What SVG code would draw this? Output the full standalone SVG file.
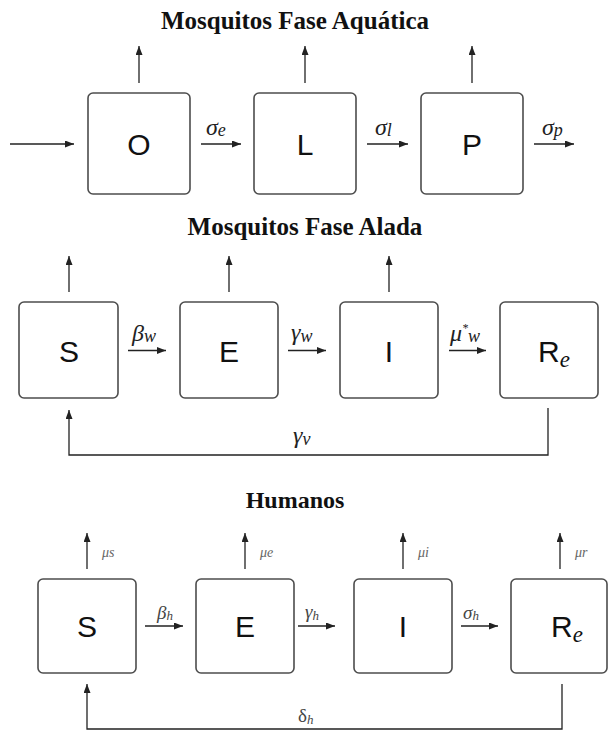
<svg xmlns="http://www.w3.org/2000/svg" width="608" height="734" viewBox="0 0 608 734">
<defs>
<marker id="ah" markerUnits="userSpaceOnUse" markerWidth="9" markerHeight="7" refX="9" refY="3.5" orient="auto">
<path d="M0,0 L9,3.5 L0,7 z" fill="#222"/>
</marker>
<style>
.box{fill:#fff;stroke:#4d4d4d;stroke-width:1.6}
.ln{stroke:#222;stroke-width:1.3;fill:none}
.title{font-family:"Liberation Serif","Times New Roman",serif;font-weight:bold;font-size:24px;fill:#111;text-anchor:middle}
.t25{font-size:25px}
.nl{font-family:"Liberation Sans",Arial,sans-serif;font-size:30px;fill:#111;text-anchor:middle}
.nls{font-family:"Liberation Sans",Arial,sans-serif;font-size:30px;fill:#111}
.sub{font-family:"Liberation Serif","Times New Roman",serif;font-style:italic;font-size:23px}
.rl{font-family:"Liberation Serif","Times New Roman",serif;font-style:italic;font-size:24px;fill:#222}
.rs{font-size:18px}
.st{font-size:12px}
.bl{font-family:"Liberation Serif","Times New Roman",serif;font-style:italic;font-size:19px;fill:#444}
.bs{font-size:13px}
.mu{font-family:"Liberation Serif","Times New Roman",serif;font-style:italic;font-size:14px;fill:#666}
</style>
</defs>
<rect width="608" height="734" fill="#fff"/>

<text class="title t25" x="295" y="29">Mosquitos Fase Aquática</text>
<text class="title t25" x="305" y="235">Mosquitos Fase Alada</text>
<text class="title" x="295" y="508">Humanos</text>

<g id="connectors">
<line class="ln" x1="139" y1="83" x2="139" y2="46" marker-end="url(#ah)"/>
<line class="ln" x1="305" y1="83" x2="305" y2="46" marker-end="url(#ah)"/>
<line class="ln" x1="472" y1="83" x2="472" y2="46" marker-end="url(#ah)"/>
<line class="ln" x1="10" y1="144" x2="74" y2="144" marker-end="url(#ah)"/>
<line class="ln" x1="201" y1="144" x2="241" y2="144" marker-end="url(#ah)"/>
<line class="ln" x1="367" y1="144" x2="408" y2="144" marker-end="url(#ah)"/>
<line class="ln" x1="534" y1="144" x2="574" y2="144" marker-end="url(#ah)"/>
<text class="rl" x="206" y="135">σ<tspan class="rs" dy="1">e</tspan></text>
<text class="rl" x="375" y="135">σ<tspan class="rs" dy="1">l</tspan></text>
<text class="rl" x="542" y="135">σ<tspan class="rs" dy="1">p</tspan></text>

<line class="ln" x1="69" y1="292" x2="69" y2="256" marker-end="url(#ah)"/>
<line class="ln" x1="229" y1="292" x2="229" y2="256" marker-end="url(#ah)"/>
<line class="ln" x1="389" y1="292" x2="389" y2="256" marker-end="url(#ah)"/>
<line class="ln" x1="128" y1="350.5" x2="166" y2="350.5" marker-end="url(#ah)"/>
<line class="ln" x1="288" y1="350.5" x2="326" y2="350.5" marker-end="url(#ah)"/>
<line class="ln" x1="449" y1="350.5" x2="486" y2="350.5" marker-end="url(#ah)"/>
<text class="rl" x="132" y="341">β<tspan class="rs" dy="1">w</tspan></text>
<text class="rl" x="291" y="340">γ<tspan class="rs" dy="2">w</tspan></text>
<text class="rl" x="450" y="341">μ<tspan class="st" dy="-9">*</tspan><tspan class="rs" dy="10">w</tspan></text>
<path class="ln" d="M548,408 V455 H69 V410" marker-end="url(#ah)"/>
<text class="rl" x="293" y="443">γ<tspan class="rs" dy="2">v</tspan></text>

<line class="ln" x1="87" y1="569" x2="87" y2="533" marker-end="url(#ah)"/>
<line class="ln" x1="245" y1="569" x2="245" y2="533" marker-end="url(#ah)"/>
<line class="ln" x1="403" y1="569" x2="403" y2="533" marker-end="url(#ah)"/>
<line class="ln" x1="560" y1="569" x2="560" y2="533" marker-end="url(#ah)"/>
<text class="mu" x="102" y="557">μs</text>
<text class="mu" x="260" y="557">μe</text>
<text class="mu" x="418" y="557">μi</text>
<text class="mu" x="575" y="557">μr</text>
<line class="ln" x1="145" y1="626" x2="183" y2="626" marker-end="url(#ah)"/>
<line class="ln" x1="298" y1="626" x2="335" y2="626" marker-end="url(#ah)"/>
<line class="ln" x1="461" y1="626" x2="498" y2="626" marker-end="url(#ah)"/>
<text class="bl" x="157" y="619">β<tspan class="bs" dy="1">h</tspan></text>
<text class="bl" x="305" y="618">γ<tspan class="bs" dy="2">h</tspan></text>
<text class="bl" x="463" y="619">σ<tspan class="bs" dy="1">h</tspan></text>
<path class="ln" d="M562,684 V729 H87 V684" marker-end="url(#ah)"/>
<text class="bl" x="298" y="722" style="font-style:normal">δ<tspan class="bs" style="font-style:italic" dy="2">h</tspan></text>
</g>

<g id="n-O"><rect class="box" x="88" y="93" width="102" height="101" rx="5"/><text class="nl" x="139" y="155">O</text></g>
<g id="n-L"><rect class="box" x="254" y="93" width="102" height="101" rx="5"/><text class="nl" x="305" y="155">L</text></g>
<g id="n-P"><rect class="box" x="421" y="93" width="102" height="101" rx="5"/><text class="nl" x="472" y="155">P</text></g>

<g id="w-S"><rect class="box" x="19" y="302" width="99" height="96" rx="5"/><text class="nl" x="69" y="362">S</text></g>
<g id="w-E"><rect class="box" x="180" y="302" width="98" height="96" rx="5"/><text class="nl" x="229" y="362">E</text></g>
<g id="w-I"><rect class="box" x="340" y="302" width="98" height="96" rx="5"/><text class="nl" x="389" y="362">I</text></g>
<g id="w-Re"><rect class="box" x="500" y="302" width="98" height="96" rx="5"/><text class="nls" x="538" y="362">R<tspan class="sub" dy="5">e</tspan></text></g>

<g id="h-S"><rect class="box" x="38" y="579" width="98" height="94" rx="5"/><text class="nl" x="87" y="637">S</text></g>
<g id="h-E"><rect class="box" x="196" y="579" width="98" height="94" rx="5"/><text class="nl" x="245" y="637">E</text></g>
<g id="h-I"><rect class="box" x="354" y="579" width="98" height="94" rx="5"/><text class="nl" x="403" y="637">I</text></g>
<g id="h-Re"><rect class="box" x="511" y="579" width="96" height="94" rx="5"/><text class="nls" x="551" y="637">R<tspan class="sub" dy="5">e</tspan></text></g>
</svg>
